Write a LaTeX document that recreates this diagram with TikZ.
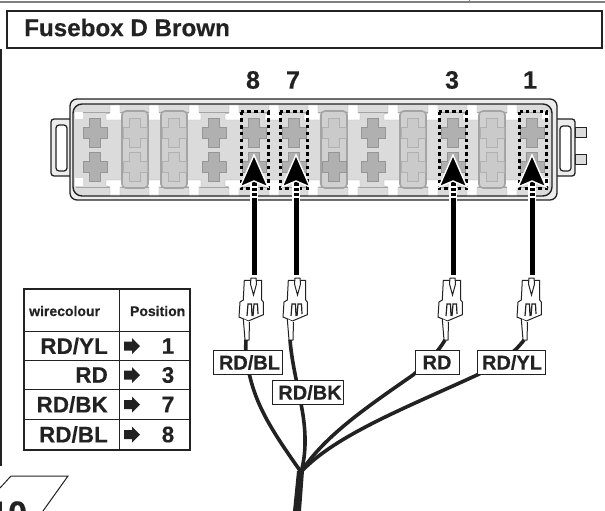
\documentclass[tikz,border=0pt]{standalone}
\usepackage{fontspec}
\setmainfont[BoldFeatures={FakeBold=0.4}]{Liberation Sans}
\usetikzlibrary{positioning}
\definecolor{inkdark}{HTML}{222222}
\definecolor{boxfill}{HTML}{DBDBDB}
\definecolor{rimfill}{HTML}{EDEDED}
\definecolor{crossfill}{HTML}{B0B0B0}
\definecolor{crossline}{HTML}{969696}
\definecolor{fusefill}{HTML}{D0D0D0}
\definecolor{fuseline}{HTML}{A4A4A4}
\definecolor{fusecross}{HTML}{CACACA}
\tikzset{
	wire/.style={line width=3.6pt,draw=inkdark},
	colourlabel/.style={draw=inkdark,line width=1pt,fill=white,text=inkdark,font=\fontsize{20}{20}\selectfont\bfseries,inner sep=0pt,minimum height=24pt},
	slotnumber/.style={text=inkdark,font=\fontsize{25}{25}\selectfont\bfseries,inner sep=0pt},
	tablehead/.style={text=inkdark,font=\fontsize{14}{14}\selectfont\bfseries,inner sep=0pt},
	tablecell/.style={text=inkdark,font=\fontsize{22.5}{22.5}\selectfont\bfseries,inner sep=0pt},
	plug/.pic={
		\draw[line width=1pt,draw=inkdark,fill=white] (-9.7,0.3)--(-10.7,20)--(-14,22)--(-15,37)--(-5.7,41)--(9.3,34.7)--(9.3,22)--(7.7,20)--(7.7,0.3)--cycle;
		\draw[line width=1pt,draw=inkdark,fill=white] (-10.7,39)--(-9,60)--(-5,60)--(-4.5,42);
		\draw[line width=1pt,draw=inkdark,fill=white] (-3.5,4)--(-3,-2)--(2,-2)--(2.5,4)--(-0.5,15)--cycle;
		\draw[line width=1.2pt,draw=inkdark] (-7,36)--(-6,24)--(-2.5,24)--(-2,36) (-1,36)--(0,24)--(3.5,24)--(4,34);
	},
	pluscross/.pic={
		\path[pic actions] (-5.5,-14.5)--(5.5,-14.5)--(5.5,-6)--(12,-6)--(12,5)--(5.5,5)--(5.5,14.5)--(-5.5,14.5)--(-5.5,5)--(-12,5)--(-12,-6)--(-5.5,-6)--cycle;
	},
	springclip/.pic={
		\path[fill=white,draw=fuseline,line width=0.4pt] (-5,0)--(5,0)--(5,8)--(7,8)--(7,15)--(-9,15)--(-9,9)--(-5,8)--cycle;
	}
}
\begin{document}
\begin{tikzpicture}[x=1pt,y=-1pt]
	\useasboundingbox (0,0) rectangle (605,511);
	\clip (0,0) rectangle (605,511);

	\draw[line width=1.2pt,draw=gray] (0,2)--(605,2);
	\draw[line width=1pt,draw=gray] (469,0)--(469,3);
	\draw[line width=1.8pt,draw=inkdark] (1,49)--(1,466);

	\node[draw=inkdark,line width=2pt,minimum width=595pt,minimum height=37pt,inner sep=0pt] (titlebox) at (304,30){};
	\node[anchor=west,text=inkdark,font=\fontsize{24.2}{25}\selectfont\bfseries,inner sep=0pt] (titletext) at (24,27.5){Fusebox D Brown};

	% housing
	\draw[line width=1.3pt,draw=inkdark,fill=rimfill,rounded corners=3pt] (70,119)--(51,119)--(51,176)--(70,176);
	\draw[line width=1.2pt,draw=inkdark,fill=white,rounded corners=3pt] (56,125) rectangle (67,171);
	\draw[line width=0.8pt,draw=inkdark,fill=boxfill] (575,127) rectangle (586,137);
	\draw[line width=0.8pt,draw=inkdark,fill=boxfill] (575,154) rectangle (586,164);
	\draw[line width=1.3pt,draw=inkdark,fill=rimfill,rounded corners=3pt] (557,119)--(575,119)--(575,176)--(557,176);
	\draw[line width=1.2pt,draw=inkdark,fill=white,rounded corners=3pt] (560,126) rectangle (571,171);
	\draw[line width=1.3pt,draw=inkdark,fill=rimfill,rounded corners=7pt] (70,99) rectangle (557,200);
	\draw[line width=1.4pt,draw=inkdark,fill=boxfill,rounded corners=9pt] (73,104) rectangle (552,196);
	\draw[line width=0.4pt,draw=fuseline] (76,112)--(549,112) (76,187)--(549,187);

	\foreach \clipx in {115,154,194,234,274,313,353,393,433,472,512}{
		\pic at (\clipx,105) {springclip};
		\pic[yscale=-1] at (\clipx,195) {springclip};
	}
	\draw[fill=white,draw=none] (75,112) rectangle (83,119);
	\draw[fill=white,draw=none] (75,178) rectangle (83,186);
	\draw[fill=white,draw=none] (542,112) rectangle (549,119);
	\draw[fill=white,draw=none] (542,178) rectangle (549,186);

	% slots
	\foreach \slotx in {95,135,174,214,254,294,334,373,413,453,492,532}{
		\pic[fill=crossfill,draw=crossline,line width=1pt] at (\slotx,133) {pluscross};
		\pic[fill=crossfill,draw=crossline,line width=1pt] at (\slotx,167) {pluscross};
	}
	\foreach \fusex in {135,174,334,413,492}{
		\draw[line width=1.6pt,draw=fuseline,fill=fusefill,rounded corners=4pt] (\fusex-13,111) rectangle (\fusex+13,188);
		\pic[fill=fusecross,draw=fusefill!85!black,line width=0.8pt] at (\fusex,133) {pluscross};
		\pic[fill=fusecross,draw=fusefill!85!black,line width=0.8pt] at (\fusex,167) {pluscross};
	}
	\pic[fill=crossfill,draw=crossline,line width=1pt] at (334,167) {pluscross};

	\foreach \boxx in {254.5,293.5,452.5,533}{
		\draw[line width=3pt,dash pattern=on 3.4pt off 3.4pt] (\boxx-13.5,111.5) rectangle (\boxx+13.5,188);
	}

	% numbers
	\node[slotnumber] (numE) at (253,80){8};
	\node[slotnumber] (numG) at (293,80){7};
	\node[slotnumber] (numC) at (452,80){3};
	\node[slotnumber] (numA) at (530,80){1};

	% arrows
	\foreach \arrowx in {254,296,453,532}{
		\draw[draw=white,line width=8.6pt] (\arrowx,181)--(\arrowx,205);
		\draw[draw=black,line width=5pt] (\arrowx,181)--(\arrowx,275);
		\draw[draw=white,line width=5pt,dash pattern=on 1.6pt off 3.6pt] (\arrowx,186)--(\arrowx,201);
		\draw[draw=white,line width=1.4pt,fill=black,line join=miter] (\arrowx,155)--(\arrowx+14,187)--(\arrowx,181)--(\arrowx-14,187)--cycle;
	}

	% plugs
	\pic at (254,280) {plug};
	\pic at (298,280) {plug};
	\pic at (453,280) {plug};
	\pic at (532,280) {plug};

	\coordinate (wireE) at (246,340);
	\coordinate (wireG) at (290,340);
	\coordinate (wireC) at (445,340);
	\coordinate (wireA) at (524,340);
	\coordinate (hub) at (301,472);

	\draw[wire] (wireE) .. controls (245,355) and (247,365) .. (250,377) .. controls (258,410) and (275,435) .. (hub);
	\draw[wire] (wireG) .. controls (292,365) and (299,390) .. (303,415) .. controls (306,435) and (306,455) .. (hub);
	\draw[wire] (wireC) .. controls (438,352) and (428,362) .. (413,375) .. controls (370,405) and (325,435) .. (hub);
	\draw[wire] (wireA) .. controls (515,352) and (500,364) .. (477,375) .. controls (410,406) and (335,435) .. (hub);
	\fill[inkdark] (297,471)--(304,471)--(301,511)--(293,511)--cycle;

	\node[colourlabel,minimum width=69pt] (labelE) at (247.5,362.5){\hspace*{4pt}RD/BL};
	\node[colourlabel,minimum width=71pt] (labelG) at (307.5,392.5){\hspace*{5pt}RD/BK};
	\node[colourlabel,minimum width=44pt] (labelC) at (437,362.5){RD};
	\node[colourlabel,minimum width=68pt] (labelA) at (511,362.5){\hspace*{2pt}RD/YL};

	% table
	\draw[line width=1pt,draw=inkdark] (119,289)--(119,450) (24,331)--(190,331) (24,360)--(190,360) (24,389)--(190,389) (24,419)--(190,419);
	\draw[line width=2pt,draw=inkdark] (24,289) rectangle (190,450);
	\node[tablehead,anchor=west] (headwire) at (29,311){wirecolour};
	\node[tablehead,anchor=east] (headpos) at (185.5,311){Position};
	\foreach \rowy/\rowwire/\rowpos in {346/RD\slash YL/1,375/RD/3,404.5/RD\slash BK/7,434.5/RD\slash BL/8}{
		\node[tablecell,anchor=east] at (108,\rowy){\rowwire};
		\node[tablecell] at (168,\rowy){\rowpos};
		\fill[inkdark] (124,\rowy-4.5)--(132,\rowy-4.5)--(132,\rowy-8)--(140,\rowy)--(132,\rowy+8)--(132,\rowy+4.5)--(124,\rowy+4.5)--cycle;
	}

	% page number
	\draw[line width=1pt,draw=inkdark] (0,488)--(11,476)--(68,476)--(43,511);
	\node[anchor=base west,text=inkdark,font=\fontsize{34}{34}\selectfont\bfseries,inner sep=0pt] (pagenum) at (-11,525){10};
\end{tikzpicture}
\end{document}
